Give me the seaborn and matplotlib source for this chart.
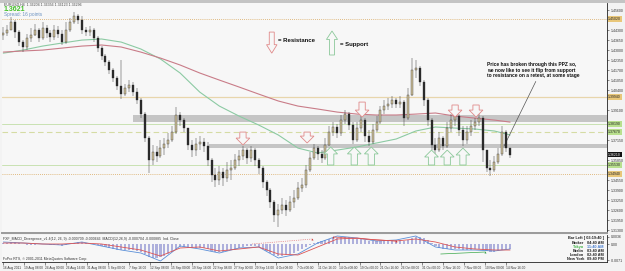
import matplotlib
matplotlib.use("Agg")
import matplotlib.pyplot as plt
import matplotlib.transforms as mtransforms
from matplotlib.patches import FancyArrow
import numpy as np
import pandas as pd
import seaborn as sns

##################################
# EURUSD H4, 16 Aug - 15 Nov 2011, one candle drawn per 3 H4 bars
first_open = 1.4398
candle_close = [
    1.4411, 1.4430, 1.4482, 1.4417, 1.4352, 1.4320, 1.4378, 1.4398, 1.4430, 1.4378,
    1.4443, 1.4411, 1.4385, 1.4430, 1.4404, 1.4352, 1.4430, 1.4482, 1.4521, 1.4495,
    1.4430, 1.4417, 1.4430, 1.4378, 1.4313, 1.4261, 1.4222, 1.4170, 1.4118, 1.4066,
    1.4014, 1.4053, 1.4073, 1.4027, 1.3975, 1.3884, 1.3728, 1.3585, 1.3637, 1.3611,
    1.3663, 1.3689, 1.3715, 1.3767, 1.3878, 1.3845, 1.3793, 1.3683, 1.3650, 1.3689,
    1.3702, 1.3676, 1.3585, 1.3488, 1.3455, 1.3507, 1.3468, 1.3520, 1.3533, 1.3585,
    1.3611, 1.3650, 1.3598, 1.3650, 1.3585, 1.3533, 1.3442, 1.3390, 1.3312, 1.3228,
    1.3260, 1.3293, 1.3260, 1.3312, 1.3338, 1.3403, 1.3423, 1.3520, 1.3598, 1.3663,
    1.3624, 1.3598, 1.3683, 1.3767, 1.3800, 1.3761, 1.3845, 1.3884, 1.3813, 1.3715,
    1.3793, 1.3845, 1.3741, 1.3702, 1.3780, 1.3832, 1.3910, 1.3936, 1.3949, 1.3975,
    1.3949, 1.3962, 1.3858, 1.4008, 1.4170, 1.4183, 1.4092, 1.3975, 1.3845, 1.3683,
    1.3650, 1.3728, 1.3676, 1.3793, 1.3845, 1.3871, 1.3780, 1.3715, 1.3767, 1.3806,
    1.3832, 1.3858, 1.3650, 1.3533, 1.3520, 1.3572, 1.3624, 1.3767, 1.3663, 1.3618]
candle_high = [
    1.4450, 1.4463, 1.4515, 1.4495, 1.4430, 1.4365, 1.4404, 1.4443, 1.4469, 1.4443,
    1.4482, 1.4463, 1.4430, 1.4463, 1.4456, 1.4430, 1.4482, 1.4508, 1.4547, 1.4534,
    1.4521, 1.4450, 1.4456, 1.4443, 1.4391, 1.4326, 1.4274, 1.4235, 1.4183, 1.4131,
    1.4235, 1.4079, 1.4105, 1.4092, 1.4053, 1.3988, 1.3897, 1.3741, 1.3683, 1.3676,
    1.3715, 1.3728, 1.3761, 1.3806, 1.3930, 1.3897, 1.3858, 1.3793, 1.3715, 1.3728,
    1.3741, 1.3728, 1.3702, 1.3598, 1.3533, 1.3546, 1.3533, 1.3572, 1.3585, 1.3624,
    1.3650, 1.3676, 1.3663, 1.3676, 1.3663, 1.3598, 1.3546, 1.3455, 1.3403, 1.3325,
    1.3299, 1.3338, 1.3325, 1.3351, 1.3390, 1.3442, 1.3468, 1.3553, 1.3637, 1.3689,
    1.3676, 1.3650, 1.3728, 1.3806, 1.3832, 1.3819, 1.3878, 1.3910, 1.3897, 1.3832,
    1.3832, 1.3871, 1.3858, 1.3780, 1.3819, 1.3871, 1.3936, 1.3975, 1.3988, 1.4001,
    1.3988, 1.4001, 1.3975, 1.4053, 1.4248, 1.4235, 1.4196, 1.4105, 1.3988, 1.3858,
    1.3728, 1.3767, 1.3741, 1.3832, 1.3884, 1.3897, 1.3884, 1.3806, 1.3806, 1.3845,
    1.3858, 1.3884, 1.3871, 1.3650, 1.3585, 1.3611, 1.3663, 1.3806, 1.3780, 1.3650]
candle_low = [
    1.4365, 1.4391, 1.4430, 1.4378, 1.4326, 1.4287, 1.4300, 1.4352, 1.4391, 1.4352,
    1.4365, 1.4378, 1.4352, 1.4365, 1.4378, 1.4333, 1.4339, 1.4417, 1.4469, 1.4469,
    1.4404, 1.4391, 1.4391, 1.4352, 1.4287, 1.4235, 1.4196, 1.4144, 1.4092, 1.4040,
    1.3982, 1.4001, 1.4027, 1.4001, 1.3949, 1.3858, 1.3702, 1.3501, 1.3553, 1.3572,
    1.3598, 1.3618, 1.3663, 1.3702, 1.3754, 1.3806, 1.3767, 1.3650, 1.3605, 1.3611,
    1.3650, 1.3637, 1.3546, 1.3442, 1.3410, 1.3423, 1.3416, 1.3442, 1.3455, 1.3520,
    1.3546, 1.3585, 1.3559, 1.3572, 1.3546, 1.3494, 1.3403, 1.3351, 1.3273, 1.3182,
    1.3150, 1.3234, 1.3221, 1.3247, 1.3273, 1.3325, 1.3377, 1.3403, 1.3507, 1.3585,
    1.3585, 1.3566, 1.3585, 1.3676, 1.3741, 1.3728, 1.3741, 1.3819, 1.3780, 1.3689,
    1.3702, 1.3767, 1.3702, 1.3676, 1.3689, 1.3767, 1.3819, 1.3884, 1.3910, 1.3923,
    1.3923, 1.3923, 1.3806, 1.3845, 1.4001, 1.4118, 1.4066, 1.3936, 1.3806, 1.3650,
    1.3611, 1.3637, 1.3650, 1.3663, 1.3767, 1.3806, 1.3741, 1.3676, 1.3689, 1.3741,
    1.3780, 1.3806, 1.3572, 1.3507, 1.3481, 1.3507, 1.3559, 1.3611, 1.3637, 1.3598]

# moving averages, read every 15 bars
ma_bars = [0, 15, 30, 45, 60, 75, 90, 105, 120, 135, 150, 165, 180, 195,
           210, 225, 240, 255, 270, 285, 300, 315, 330, 345, 360, 375, 387]
ma_green = [1.4280, 1.4300, 1.4326, 1.4346, 1.4365, 1.4372, 1.4352, 1.4307, 1.4242,
            1.4151, 1.4027, 1.3936, 1.3871, 1.3813, 1.3748, 1.3663, 1.3631, 1.3650,
            1.3670, 1.3696, 1.3722, 1.3774, 1.3800, 1.3793, 1.3787, 1.3774, 1.3748]
ma_red = [1.4287, 1.4294, 1.4300, 1.4313, 1.4326, 1.4333, 1.4320, 1.4287, 1.4248,
          1.4203, 1.4151, 1.4105, 1.4060, 1.4014, 1.3969, 1.3936, 1.3917, 1.3897,
          1.3884, 1.3878, 1.3878, 1.3884, 1.3891, 1.3871, 1.3858, 1.3845, 1.3832]

# horizontal levels and PPZ zones
tan_dotted_levels = [1.4502, 1.3494]
tan_solid_levels = [1.3994]
green_solid_levels = [1.3819, 1.3553]
green_dashed_levels = [1.3767]
zone_bottom = [1.3832, 1.3663]
zone_top = [1.3878, 1.3689]
zone_start = [99, 157]
current_price = 1.3621

# resistance (down) and support (up) arrows
resistance_bar = [183, 232, 274, 345, 361]
resistance_from = [1.3767, 1.3767, 1.3962, 1.3943, 1.3943]
resistance_to = [1.3683, 1.3696, 1.3865, 1.3865, 1.3865]
support_bar = [250, 268, 281, 327, 339, 351]
support_from = [1.3553, 1.3553, 1.3553, 1.3553, 1.3553, 1.3553]
support_to = [1.3670, 1.3670, 1.3670, 1.3650, 1.3650, 1.3663]

# MACD divergence panel
macd_hist = [
    0.0004, 0.0004, 0.0008, 0.0008, 0.0004, 0.0, -0.0004, -0.0004,
    -0.0004, 0.0, 0.0, 0.0, -0.0004, -0.0004, -0.0004, -0.0008,
    -0.0004, 0.0, 0.0004, 0.0008, 0.0008, 0.0004, 0.0004,
    0.0, -0.0004, -0.0008, -0.0012, -0.0016, -0.002, -0.0024,
    -0.0024, -0.0024, -0.0024, -0.0024, -0.0028, -0.0032,
    -0.004, -0.0052, -0.0056, -0.0056, -0.0052, -0.0048,
    -0.004, -0.0032, -0.002, -0.0012, -0.0012, -0.0016,
    -0.0016, -0.0016, -0.0016, -0.0016, -0.002, -0.0028,
    -0.0032, -0.0032, -0.0032, -0.0028, -0.0024, -0.002,
    -0.0016, -0.0012, -0.0008, -0.0008, -0.0008, -0.0012,
    -0.002, -0.0028, -0.0036, -0.0044, -0.0048, -0.0048,
    -0.0044, -0.004, -0.0036, -0.0028, -0.002, -0.0012,
    -0.0004, 0.0004, 0.0008, 0.0012, 0.0016, 0.002,
    0.0024, 0.0024, 0.0028, 0.0028, 0.0028, 0.0024,
    0.002, 0.002, 0.0016, 0.0012, 0.0012, 0.0012,
    0.0012, 0.0016, 0.0016, 0.0016, 0.0016, 0.0016,
    0.0012, 0.0016, 0.0024, 0.0028, 0.0028, 0.0024,
    0.0016, 0.0004, -0.0008, -0.0016, -0.002, -0.002,
    -0.002, -0.002, -0.002, -0.0024, -0.0024, -0.0024,
    -0.002, -0.002, -0.0024, -0.0028, -0.0032, -0.0032,
    -0.0028, -0.0024, -0.002, -0.002]
macd_line = [0.0008, 0.0004, 0.0, -0.0004, 0.0008, -0.0008, -0.0024, -0.0036, -0.0068,
             -0.0008, -0.002, -0.0036, -0.0016, -0.0012, -0.0056, -0.004, 0.0004, 0.0032,
             0.0024, 0.0012, 0.0016, 0.0032, -0.0012, -0.0024, -0.0024, -0.0028, -0.002]
macd_signal = [0.0004, 0.0004, 0.0, 0.0, 0.0004, 0.0, -0.0012, -0.0024, -0.0048,
               -0.0016, -0.0012, -0.0028, -0.002, -0.0012, -0.004, -0.0044, -0.0012, 0.002,
               0.0024, 0.0016, 0.0012, 0.002, 0.0008, -0.0012, -0.002, -0.0024, -0.0024]
div_red_bars = [190, 236]
div_red_vals = [0.0, 0.0020]
div_red2_bars = [252, 300]
div_red2_vals = [0.0028, 0.0012]
div_green_bars = [334, 368]
div_green_vals = [-0.0040, -0.0032]

date_labels = ["16 Aug 2011", "19 Aug 08:00", "24 Aug 00:00", "26 Aug 16:00", "31 Aug 08:00",
               "5 Sep 00:00", "7 Sep 16:00", "12 Sep 08:00", "15 Sep 00:00", "19 Sep 16:00",
               "22 Sep 08:00", "27 Sep 00:00", "29 Sep 16:00", "4 Oct 08:00", "7 Oct 00:00",
               "11 Oct 16:00", "14 Oct 08:00", "19 Oct 00:00", "21 Oct 16:00", "26 Oct 08:00",
               "31 Oct 00:00", "2 Nov 16:00", "7 Nov 08:00", "10 Nov 00:00", "14 Nov 16:00"]
clock_names = ["Broker", "Tokyo", "Berlin", "London", "New York"]
clock_times = ["04:40 AM", "11:40 AM", "03:40 AM", "02:40 AM", "09:40 PM"]
##################################

bg = "#f7f7f7"
sns.set_theme(style="white", rc={"axes.facecolor": bg, "figure.facecolor": "#f3f3f3"})
plt.rcParams['font.family'] = ['Liberation Sans', 'DejaVu Sans']

fig = plt.figure(figsize=(6.25, 2.71), dpi=100)
ax = fig.add_axes([2 / 625, 1 - 233 / 271, 605 / 625, 230 / 271])
axm = fig.add_axes([2 / 625, 1 - 262 / 271, 605 / 625, 27 / 271], sharex=ax)
fig.add_artist(plt.Rectangle((0, 1 - 3 / 271), 1, 3 / 271, transform=fig.transFigure,
                             color="#c4c4c4", lw=0))

# candles
close = np.array(candle_close)
opens = np.r_[first_open, close[:-1]]
bars = np.arange(len(close)) * 3
top = np.maximum(candle_high, np.maximum(opens, close))
bot = np.minimum(candle_low, np.minimum(opens, close))
up = close >= opens
ax.vlines(bars, bot, top, color="#3a3a3a", lw=0.35, zorder=4)
ax.bar(bars, np.maximum(np.abs(close - opens), 0.0002), bottom=np.minimum(opens, close),
       width=1.5, color=np.where(up, "#cdbf9a", "#2a2a2a"), edgecolor="#2a2a2a",
       linewidth=0.25, zorder=5)

# zones and levels
for lo, hi, st in zip(zone_bottom, zone_top, zone_start):
    ax.fill_between([st, 461], lo, hi, color="#c5c5c5", lw=0, zorder=1.5)
for lv in tan_dotted_levels:
    ax.axhline(lv, color="#d8a65a", ls=(0, (1, 1.5)), lw=0.6, zorder=2)
for lv in tan_solid_levels:
    ax.axhline(lv, color="#e8d6ac", lw=0.9, zorder=2)
for lv in green_solid_levels:
    ax.axhline(lv, color="#c9e2b2", lw=0.7, zorder=2)
for lv in green_dashed_levels:
    ax.axhline(lv, color="#d5dca4", ls=(0, (5, 3)), lw=0.8, zorder=2)

# moving averages
sns.lineplot(x=ma_bars, y=ma_green, ax=ax, color="#8ccaa3", lw=0.8, zorder=3)
sns.lineplot(x=ma_bars, y=ma_red, ax=ax, color="#c97c88", lw=0.8, zorder=3)

# arrows
hw, sw, hl = 10.5, 4.8, 0.0045
for b, y0, y1 in zip(resistance_bar, resistance_from, resistance_to):
    ax.add_patch(FancyArrow(b, y0, 0, y1 - y0, width=sw, head_width=hw, head_length=hl,
                            length_includes_head=True, fc=bg, ec="#e08a8a", lw=0.6, zorder=6))
for b, y0, y1 in zip(support_bar, support_from, support_to):
    ax.add_patch(FancyArrow(b, y0, 0, y1 - y0, width=sw, head_width=hw, head_length=hl,
                            length_includes_head=True, fc=bg, ec="#8cc89a", lw=0.6, zorder=6))
ax.add_patch(FancyArrow(205, 1.4417, 0, -0.0137, width=3.8, head_width=8, head_length=0.0055,
                        length_includes_head=True, fc=bg, ec="#e08a8a", lw=0.6, zorder=6))
ax.add_patch(FancyArrow(251, 1.4268, 0, 0.0156, width=3.8, head_width=8.5, head_length=0.0055,
                        length_includes_head=True, fc=bg, ec="#8cc89a", lw=0.6, zorder=6))
ax.text(210, 1.4365, "= Resistance", fontsize=4.3, fontweight="bold", va="center", color="#111")
ax.text(257, 1.4339, "= Support", fontsize=4.3, fontweight="bold", va="center", color="#111")

ax.annotate("Price has broken through this PPZ so,\nwe now like to see it flip from support\n"
            "to resistance on a retest, at some stage",
            xy=(382.4, 1.3676), xytext=(369, 1.4170), fontsize=3.5, fontweight="bold",
            va="center", ha="left", linespacing=1.15, color="#111",
            arrowprops=dict(arrowstyle="-", color="#555555", lw=0.5,
                            shrinkA=0, shrinkB=0, relpos=(0.55, 0.0)))

# header texts
fig.text(4 / 625, 1 - 4.5 / 271, "EURUSD,H4  1.36204 1.36356 1.36123 1.36296", fontsize=2.6,
         color="#444", va="center")
fig.text(4 / 625, 1 - 9.5 / 271, "1.3621", fontsize=5, fontweight="bold", color="#44c02a",
         va="center")
fig.text(4 / 625, 1 - 14.5 / 271, "Spread: 16 points", fontsize=3.4, color="#6b92c2", va="center")

# price axis
ax.set_xlim(-1, 461)
ax.set_ylim(1.3111, 1.4606)
ax.yaxis.tick_right()
boxes = [(lv, "#e9c77a", "#222") for lv in tan_dotted_levels + tan_solid_levels] + \
        [(lv, "#b9e08e", "#222") for lv in green_solid_levels + green_dashed_levels] + \
        [(current_price, "#111111", "white")]
ticks = np.arange(1.3130, 1.4600, 0.0065)
ticks = [t for t in ticks if min(abs(t - b[0]) for b in boxes) > 0.0030]
ax.set_yticks(ticks)
ax.set_yticklabels([f"{t:.5f}" for t in ticks])
ax.tick_params(axis="y", labelsize=2.5, length=1.5, width=0.4, pad=1, colors="#333")
ax.tick_params(axis="x", bottom=False, labelbottom=False)
ax.set_xlabel("")
ax.set_ylabel("")
trans = mtransforms.blended_transform_factory(ax.transAxes, ax.transData)
for lv, fc, tc in boxes:
    ax.text(1.002, lv, f"{lv:.5f}", transform=trans, fontsize=2.5, va="center", ha="left",
            color=tc, bbox=dict(boxstyle="square,pad=0.2", fc=fc, ec="none"), clip_on=False)
for s in ["top", "left"]:
    ax.spines[s].set_visible(False)
ax.spines["right"].set_color("#222")
ax.spines["right"].set_linewidth(0.6)
ax.spines["bottom"].set_color("#9a9a9a")
ax.spines["bottom"].set_linewidth(1.4)

# MACD panel
axm.bar(bars, macd_hist, width=1.6, color="#aeb0dc", lw=0, zorder=2)
sns.lineplot(x=ma_bars, y=macd_line, ax=axm, color="#5a8fd8", lw=0.6, zorder=3)
sns.lineplot(x=ma_bars, y=macd_signal, ax=axm, color="#dd5555", lw=0.6, zorder=3)
sns.lineplot(x=div_red_bars, y=div_red_vals, ax=axm, color="#dd5555", lw=0.5, ls=":", zorder=4)
sns.lineplot(x=div_red2_bars, y=div_red2_vals, ax=axm, color="#dd5555", lw=0.5, zorder=4)
sns.lineplot(x=div_green_bars, y=div_green_vals, ax=axm, color="#3aa84a", lw=0.5, zorder=4)
axm.scatter([div_red_bars[1], div_red2_bars[0], div_red2_bars[1]],
            [div_red_vals[1], div_red2_vals[0], div_red2_vals[1]],
            marker="^", s=2, color="#d03030", lw=0, zorder=5)
axm.scatter([div_green_bars[1]], [div_green_vals[1]], marker="^", s=2, color="#2a9a3a",
            lw=0, zorder=5)
axm.set_ylim(-0.0072, 0.0036)
axm.yaxis.tick_right()
axm.set_yticks([0.0030, 0.0, -0.0064])
axm.set_yticklabels(["0.0036", "0.00", "-0.0071"])
axm.tick_params(axis="y", labelsize=2.5, length=1.5, width=0.4, pad=1, colors="#333")
axm.set_xticks(np.arange(len(date_labels)) * 16)
axm.set_xticklabels(date_labels, ha="left")
axm.tick_params(axis="x", labelsize=2.3, length=2, width=0.4, pad=0.8, colors="#333",
                bottom=True)
axm.set_xlabel("")
axm.set_ylabel("")
for s in ["top", "left"]:
    axm.spines[s].set_visible(False)
axm.spines["right"].set_color("#222")
axm.spines["right"].set_linewidth(0.6)
axm.spines["bottom"].set_color("#222")
axm.spines["bottom"].set_linewidth(0.6)
axm.text(0.002, 0.86, "FXF_MACD_Divergence_v1.4(12, 26, 9) -0.000709 -0.000646  "
         "MACD(12,26,9) -0.000704 -0.000885  Ind. Close", transform=axm.transAxes,
         fontsize=2.5, color="#333", va="center")
axm.text(0.002, 0.1, "FxPro RTS, \u00a9 2001-2011 MetaQuotes Software Corp.",
         transform=axm.transAxes, fontsize=2.5, color="#333", va="center")
axm.text(0.995, 0.88, "Bar Left [ 03:19:40 ]", transform=axm.transAxes, fontsize=2.8,
         fontweight="bold", color="#222", ha="right", va="center")
for k, (nm, tm) in enumerate(zip(clock_names, clock_times)):
    c = "#3cb043" if nm == "Tokyo" else "#222"
    tc = "#4a7fd0" if nm == "Tokyo" else "#222"
    yy = 0.72 - k * 0.155
    axm.text(0.962, yy, nm, transform=axm.transAxes, fontsize=2.8, fontweight="bold",
             color=c, ha="right", va="center")
    axm.text(0.995, yy, tm, transform=axm.transAxes, fontsize=2.8, fontweight="bold",
             color=tc, ha="right", va="center")

fig.savefig("out.png", dpi=100, facecolor=fig.get_facecolor())
